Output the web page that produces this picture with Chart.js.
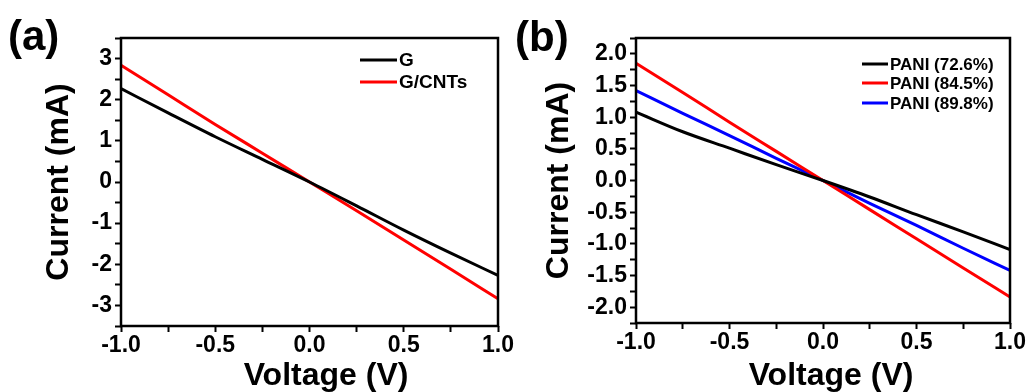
<!DOCTYPE html>
<html>
<head>
<meta charset="utf-8">
<script src="https://cdn.jsdelivr.net/npm/chart.js@4.4.1/dist/chart.umd.min.js"></script>
<style>
    html, body { margin: 0; padding: 0; background: #fff; }
    #wrap { position: relative; width: 1030px; height: 392px; overflow: hidden; }
    canvas { position: absolute; top: 0; }
    #chart_a { left: 0; }
    #chart_b { left: 515px; }
    .panel_label { position: absolute; font: bold 42px "Liberation Sans", Arial, sans-serif; line-height: 42px; color: #000; }
</style>
</head>
<body>
<div id="wrap">
    <canvas id="chart_a" width="515" height="392"></canvas>
    <canvas id="chart_b" width="515" height="392"></canvas>
    <div class="panel_label" style="left:8px;top:15px">(a)</div>
    <div class="panel_label" style="left:515px;top:16px">(b)</div>
</div>
<script>
// voltage sweep (V), shared by both panels
const VOLTAGE = [-1.0, -0.75, -0.5, -0.25, 0.0, 0.25, 0.5, 0.75, 1.0];

// panel (a) currents (mA)
const G_CURRENT = [2.27, 1.68, 1.10, 0.55, 0.0, -0.58, -1.17, -1.73, -2.27];
const G_CNT_CURRENT = [2.84, 2.12, 1.40, 0.70, 0.0, -0.70, -1.41, -2.12, -2.84];

// panel (b) currents (mA)
const PANI_726 = [1.08, 0.77, 0.51, 0.25, 0.0, -0.26, -0.54, -0.81, -1.09];
const PANI_845 = [1.85, 1.39, 0.92, 0.46, 0.0, -0.46, -0.92, -1.38, -1.84];
const PANI_898 = [1.42, 1.06, 0.71, 0.35, 0.0, -0.36, -0.71, -1.07, -1.42];

const FONT = '"Liberation Sans", Arial, sans-serif';
Chart.defaults.font.family = FONT;
Chart.defaults.color = '#000';

// frame round the plot, legend inside it, x axis title
const panelDecor = {
    id: 'panelDecor',
    afterDatasetsDraw(chart, args, opts) {
        const ctx = chart.ctx;
        const area = chart.chartArea;
        ctx.save();
        ctx.strokeStyle = '#000';
        ctx.lineWidth = 2.5;
        ctx.strokeRect(area.left, area.top, area.right - area.left, area.bottom - area.top);

        ctx.font = 'bold ' + opts.legendFont + 'px ' + FONT;
        ctx.textAlign = 'left';
        ctx.textBaseline = 'middle';
        chart.data.datasets.forEach((ds, i) => {
            const y = opts.legendY[i];
            ctx.strokeStyle = ds.borderColor;
            ctx.lineWidth = 3;
            ctx.beginPath();
            ctx.moveTo(opts.legendX, y);
            ctx.lineTo(opts.legendX + opts.legendLine, y);
            ctx.stroke();
            ctx.fillStyle = '#000';
            ctx.fillText(ds.label, opts.legendX + opts.legendLine + 2, y + 1);
        });

        ctx.font = 'bold 32px ' + FONT;
        ctx.textAlign = 'center';
        ctx.textBaseline = 'alphabetic';
        ctx.fillStyle = '#000';
        ctx.fillText(opts.xTitle, opts.xTitleX, opts.xTitleY);
        ctx.restore();
    }
};

function to_points(values) {
    return VOLTAGE.map((v, i) => ({ x: v, y: values[i] }));
}

function make_chart(canvas_id, series, cfg) {
    const datasets = series.map(s => ({
        label: s.label,
        data: to_points(s.values),
        borderColor: s.color,
        backgroundColor: s.color,
        borderWidth: 3,
        pointRadius: 0,
        cubicInterpolationMode: 'monotone'
    }));
    return new Chart(document.getElementById(canvas_id).getContext('2d'), {
        type: 'line',
        data: { datasets: datasets },
        plugins: [panelDecor],
        options: {
            responsive: false,
            animation: false,
            layout: { padding: { left: 0, top: cfg.padTop, right: cfg.padRight, bottom: 0 } },
            plugins: {
                legend: { display: false },
                tooltip: { enabled: false },
                panelDecor: cfg.decor
            },
            scales: {
                x: {
                    type: 'linear',
                    min: -1, max: 1,
                    border: { display: false },
                    grid: { drawOnChartArea: false, drawTicks: true, tickLength: 6, tickWidth: 2, tickColor: '#000' },
                    ticks: {
                        stepSize: 0.25,
                        autoSkip: false,
                        maxRotation: 0,
                        padding: 0,
                        font: { size: 23, weight: 'bold' },
                        callback: (v) => Math.abs(v * 2 - Math.round(v * 2)) < 1e-6 ? v.toFixed(1) : ''
                    },
                    afterFit: (scale) => { scale.height = cfg.xHeight; }
                },
                y: {
                    type: 'linear',
                    min: cfg.yMin, max: cfg.yMax,
                    border: { display: false },
                    grid: { drawOnChartArea: false, drawTicks: true, tickLength: 6, tickWidth: 2, tickColor: '#000' },
                    ticks: {
                        stepSize: cfg.yMinor,
                        autoSkip: false,
                        padding: 3,
                        font: { size: 23, weight: 'bold' },
                        callback: cfg.yLabel
                    },
                    title: {
                        display: true,
                        text: 'Current (mA)',
                        font: { size: 32, weight: 'bold' },
                        padding: { top: cfg.yTitlePad, bottom: 0 }
                    },
                    afterFit: (scale) => { scale.width = 121; }
                }
            }
        }
    });
}

make_chart('chart_a', [
    { label: 'G', values: G_CURRENT, color: '#000000' },
    { label: 'G/CNTs', values: G_CNT_CURRENT, color: '#ff0000' }
], {
    padTop: 38, padRight: 17, xHeight: 66,
    yMin: -3.5, yMax: 3.5, yMinor: 0.5,
    yLabel: (v) => Math.abs(v - Math.round(v)) < 1e-6 ? String(Math.round(v)) : '',
    yTitlePad: 40,
    decor: { legendX: 360, legendLine: 37, legendY: [60, 82], legendFont: 19,
             xTitle: 'Voltage (V)', xTitleX: 326, xTitleY: 385 }
});

make_chart('chart_b', [
    { label: 'PANI (72.6%)', values: PANI_726, color: '#000000' },
    { label: 'PANI (84.5%)', values: PANI_845, color: '#ff0000' },
    { label: 'PANI (89.8%)', values: PANI_898, color: '#0000ff' }
], {
    padTop: 38, padRight: 20, xHeight: 69,
    yMin: -2.25, yMax: 2.25, yMinor: 0.25,
    yLabel: (v) => Math.abs(v * 2 - Math.round(v * 2)) < 1e-6 ? v.toFixed(1) : '',
    yTitlePad: 25,
    decor: { legendX: 347, legendLine: 26, legendY: [64, 83, 103], legendFont: 17,
             xTitle: 'Voltage (V)', xTitleX: 316, xTitleY: 385 }
});
</script>
</body>
</html>
